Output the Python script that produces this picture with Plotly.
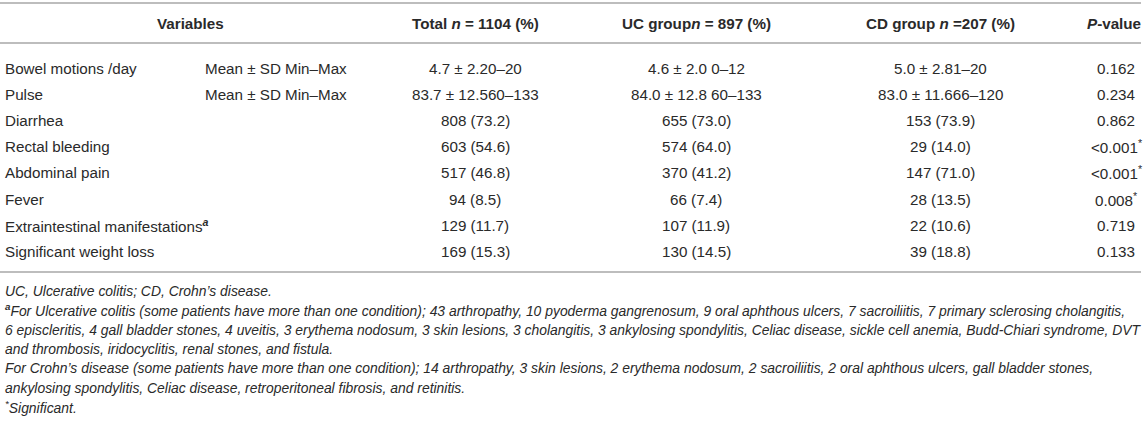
import plotly.graph_objects as go

# ---- data ----
headers = ["Variables", "Total <i>n</i> = 1104 (%)", "UC group<i>n</i> = 897 (%)",
           "CD group <i>n</i> =207 (%)", "<i>P</i>-value"]
variables = ["Bowel motions /day", "Pulse", "Diarrhea", "Rectal bleeding", "Abdominal pain",
             "Fever", "Extraintestinal manifestations<sup><b><i>a</i></b></sup>", "Significant weight loss"]
stat_type = ["Mean ± SD Min–Max", "Mean ± SD Min–Max", "", "", "", "", "", ""]
total = ["4.7 ± 2.20–20", "83.7 ± 12.560–133", "808 (73.2)", "603 (54.6)", "517 (46.8)",
         "94 (8.5)", "129 (11.7)", "169 (15.3)"]
uc_group = ["4.6 ± 2.0 0–12", "84.0 ± 12.8 60–133", "655 (73.0)", "574 (64.0)", "370 (41.2)",
            "66 (7.4)", "107 (11.9)", "130 (14.5)"]
cd_group = ["5.0 ± 2.81–20", "83.0 ± 11.666–120", "153 (73.9)", "29 (14.0)", "147 (71.0)",
            "28 (13.5)", "22 (10.6)", "39 (18.8)"]
p_values = ["0.162", "0.234", "0.862", "&lt;0.001", "&lt;0.001", "0.008", "0.719", "0.133"]
significant = [False, False, False, True, True, True, False, False]
footnotes = [
    "UC, Ulcerative colitis; CD, Crohn’s disease.",
    "<sup><b>a</b></sup>For Ulcerative colitis (some patients have more than one condition); 43 arthropathy, 10 pyoderma gangrenosum, 9 oral aphthous ulcers, 7 sacroiliitis, 7 primary sclerosing cholangitis,",
    "6 episcleritis, 4 gall bladder stones, 4 uveitis, 3 erythema nodosum, 3 skin lesions, 3 cholangitis, 3 ankylosing spondylitis, Celiac disease, sickle cell anemia, Budd-Chiari syndrome, DVT",
    "and thrombosis, iridocyclitis, renal stones, and fistula.",
    "For Crohn’s disease (some patients have more than one condition); 14 arthropathy, 3 skin lesions, 2 erythema nodosum, 2 sacroiliitis, 2 oral aphthous ulcers, gall bladder stones,",
    "ankylosing spondylitis, Celiac disease, retroperitoneal fibrosis, and retinitis.",
    "<sup>*</sup>Significant.",
]

# ---- layout geometry ----
W, H = 1144, 421
FONT = "Liberation Sans, Arial, Helvetica, sans-serif"
TXT = "#2a2a2a"
LINE = "#bdbdbd"
BODY_SIZE = 15.2
FOOT_SIZE = 13.9
col_x = {"var": 3, "stat": 203, "total": 475, "uc": 696, "cd": 940, "p": 1116}
header_x = [190, 475, 696, 940, 1114]
header_y = 23
row_y0, row_dy = 68, 26.2
lines_y = [3, 43, 272]
foot_y0, foot_dy = 291, 19.3

ann = []
def add(x, y, text, anchor="center", size=BODY_SIZE, italic=False, bold=False):
    t = text
    if italic:
        t = "<i>" + t + "</i>"
    if bold:
        t = "<b>" + t + "</b>"
    ann.append(dict(x=x, y=y, xref="x", yref="y", text=t, showarrow=False,
                    xanchor=anchor, yanchor="middle",
                    font=dict(family=FONT, size=size, color=TXT)))

for hx, h in zip(header_x, headers):
    add(hx, header_y, h, bold=True)

for i in range(len(variables)):
    y = row_y0 + i * row_dy
    add(col_x["var"], y, variables[i], anchor="left")
    if stat_type[i]:
        add(col_x["stat"], y, stat_type[i], anchor="left")
    add(col_x["total"], y, total[i])
    add(col_x["uc"], y, uc_group[i])
    add(col_x["cd"], y, cd_group[i])
    pv = p_values[i] + ("<sup>*</sup>" if significant[i] else "")
    add(col_x["p"], y, pv)

for j, f in enumerate(footnotes):
    add(col_x["var"], foot_y0 + j * foot_dy, f, anchor="left", size=FOOT_SIZE, italic=True)

shapes = [dict(type="line", xref="x", yref="y", x0=0, x1=1141, y0=ly, y1=ly,
               line=dict(color=LINE, width=2)) for ly in lines_y]

fig = go.Figure()
fig.update_layout(
    width=W, height=H, margin=dict(l=0, r=0, t=0, b=0),
    paper_bgcolor="white", plot_bgcolor="white",
    xaxis=dict(range=[0, W], visible=False, fixedrange=True),
    yaxis=dict(range=[H, 0], visible=False, fixedrange=True),
    annotations=ann, shapes=shapes, showlegend=False,
)
fig.write_html("out.html", config={"displayModeBar": False},
               post_script="document.body.style.margin='0';document.body.style.overflow='hidden';")
